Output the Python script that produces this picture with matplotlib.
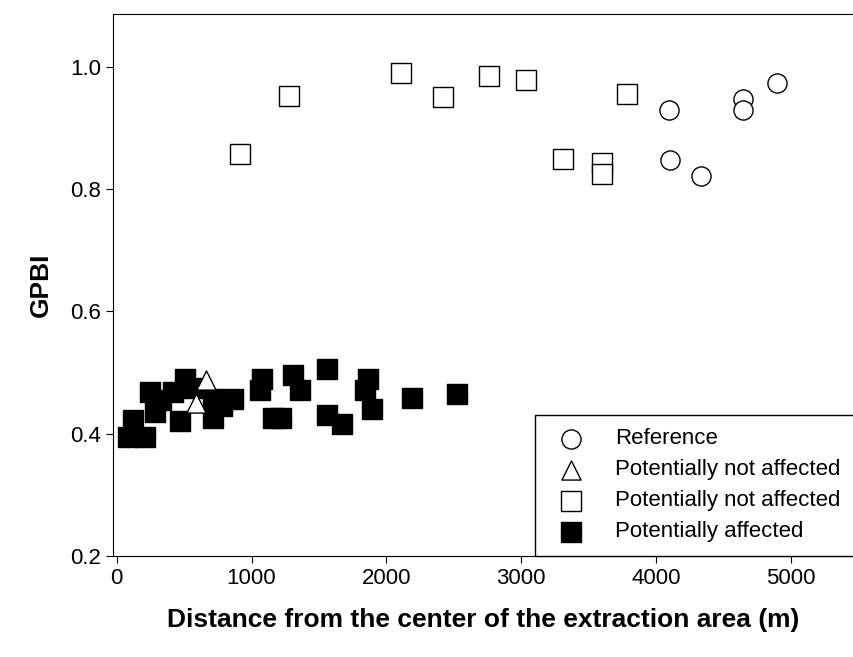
import matplotlib.pyplot as plt

plt.rcParams['font.family'] = 'Liberation Sans'

# Reference
ref_x = [4098, 4105, 4335, 4647, 4647, 4900]
ref_y = [0.930, 0.847, 0.822, 0.948, 0.930, 0.974]
# Potentially not affected (triangles)
tri_x = [661, 586]
tri_y = [0.487, 0.450]
# Potentially not affected (open squares)
osq_x = [913, 1277, 2108, 2420, 2762, 3036, 3311, 3601, 3601, 3787]
osq_y = [0.858, 0.953, 0.990, 0.951, 0.985, 0.979, 0.850, 0.843, 0.825, 0.956]
# Potentially affected
fsq_x = [82, 208, 120, 245, 282, 416, 505, 468, 713, 713, 861, 1076, 1062,
         1158, 1307, 1359, 1559, 1559, 1670, 1863, 1841, 1893, 2190, 2524,
         330, 560, 1220, 780]
fsq_y = [0.395, 0.395, 0.423, 0.468, 0.435, 0.468, 0.490, 0.420, 0.456, 0.426,
         0.456, 0.490, 0.472, 0.426, 0.496, 0.472, 0.505, 0.430, 0.415, 0.490,
         0.472, 0.441, 0.459, 0.464, 0.455, 0.475, 0.426, 0.445]

fig = plt.figure(figsize=(8.54, 6.57), dpi=100)
ax = fig.add_axes([0.132, 0.154, 0.868, 0.825])

ax.scatter(ref_x, ref_y, s=190, marker='o', facecolors='white', edgecolors='black', linewidths=1, label='Reference', zorder=3)
ax.scatter(tri_x, tri_y, s=190, marker='^', facecolors='white', edgecolors='black', linewidths=1, label='Potentially not affected', zorder=4)
ax.scatter(osq_x, osq_y, s=200, marker='s', facecolors='white', edgecolors='black', linewidths=1, label='Potentially not affected', zorder=3)
ax.scatter(fsq_x, fsq_y, s=200, marker='s', color='black', label='Potentially affected', zorder=3)

ax.set_xlim(-30, 5470)
ax.set_ylim(0.2, 1.087)
ax.set_xticks([0, 1000, 2000, 3000, 4000, 5000])
ax.set_yticks([0.2, 0.4, 0.6, 0.8, 1.0])
ax.set_yticklabels(['0.2', '0.4', '0.6', '0.8', '1.0'])
ax.tick_params(labelsize=16, direction='out', length=5)
ax.spines['right'].set_visible(False)
ax.set_xlabel('Distance from the center of the extraction area (m)', fontsize=19, fontweight='bold', labelpad=14)
ax.set_ylabel('GPBI', fontsize=19, fontweight='bold', labelpad=12)

leg = ax.legend(loc='lower right', fontsize=16, fancybox=False, framealpha=1,
                edgecolor='black', borderaxespad=0, handletextpad=1.0,
                labelspacing=0.45, borderpad=0.6)
leg.get_frame().set_linewidth(1)

fig.savefig('out.png', dpi=100)
